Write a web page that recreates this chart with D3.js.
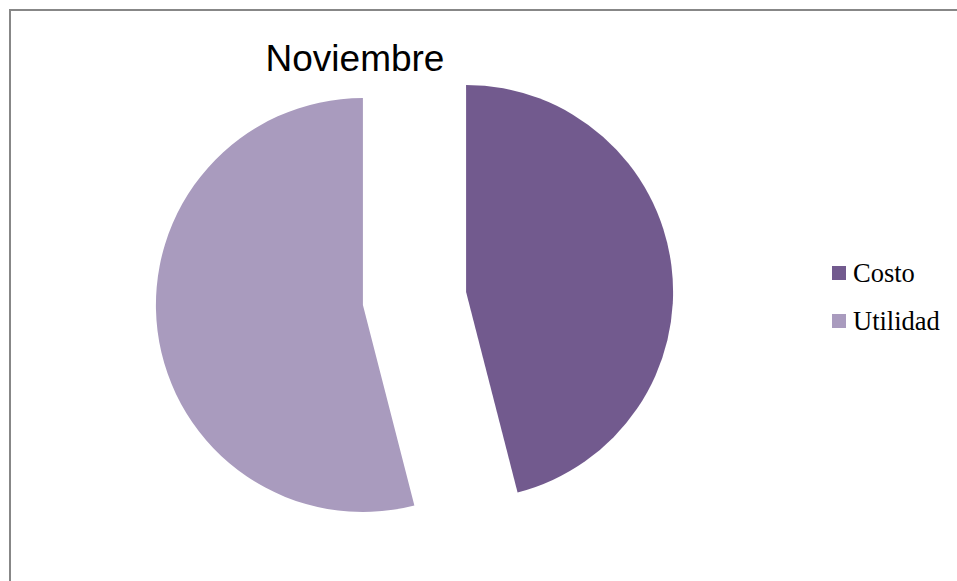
<!DOCTYPE html>
<html>
<head>
<meta charset="utf-8">
<script src="https://cdn.jsdelivr.net/npm/d3@7"></script>
<style>
  html, body { margin: 0; padding: 0; background: #fff; }
  svg { display: block; }
</style>
</head>
<body>
<svg id="chart" width="957" height="581"></svg>
<script>
// Monthly split of sales: cost vs. profit
const categories = ["Costo", "Utilidad"];
const values = [46, 54];
const colors = ["#725A8E", "#A99BBE"];
const title = "Noviembre";

const svg = d3.select("#chart");

// chart frame (only the left and top edges fall inside the window)
svg.append("rect")
  .attr("x", 10).attr("y", 10)
  .attr("width", 1200).attr("height", 1200)
  .attr("fill", "#fff")
  .attr("stroke", "#878787")
  .attr("stroke-width", 2);

svg.append("text")
  .attr("x", 355).attr("y", 71)
  .attr("text-anchor", "middle")
  .attr("font-family", "Liberation Sans, Arial, sans-serif")
  .attr("font-size", 37)
  .attr("fill", "#000")
  .text(title);

const cx = 414.5, cy = 298.5, radius = 207, explode = 52;

const pie = d3.pie().sort(null).value(d => d.value);
const arc = d3.arc().innerRadius(0).outerRadius(radius);
const data = categories.map((c, i) => ({ name: c, value: values[i] }));

const color = d3.scaleOrdinal().domain(categories).range(colors);

const g = svg.append("g").attr("transform", `translate(${cx},${cy})`);
g.selectAll("path")
  .data(pie(data))
  .join("path")
  .attr("d", arc)
  .attr("fill", d => color(d.data.name))
  .attr("transform", d => {
    const mid = (d.startAngle + d.endAngle) / 2;
    return `translate(${explode * Math.sin(mid)},${-explode * Math.cos(mid)})`;
  });

// legend
const legend = svg.append("g").attr("transform", "translate(832,266)");
const item = legend.selectAll("g")
  .data(categories)
  .join("g")
  .attr("transform", (d, i) => `translate(0,${i * 48})`);
item.append("rect")
  .attr("width", 14).attr("height", 14)
  .attr("fill", d => color(d));
item.append("text")
  .attr("x", 21).attr("y", 16)
  .attr("font-family", "Liberation Serif, Cambria, serif")
  .attr("font-size", 26.5)
  .attr("fill", "#000")
  .text(d => d);
</script>
</body>
</html>
